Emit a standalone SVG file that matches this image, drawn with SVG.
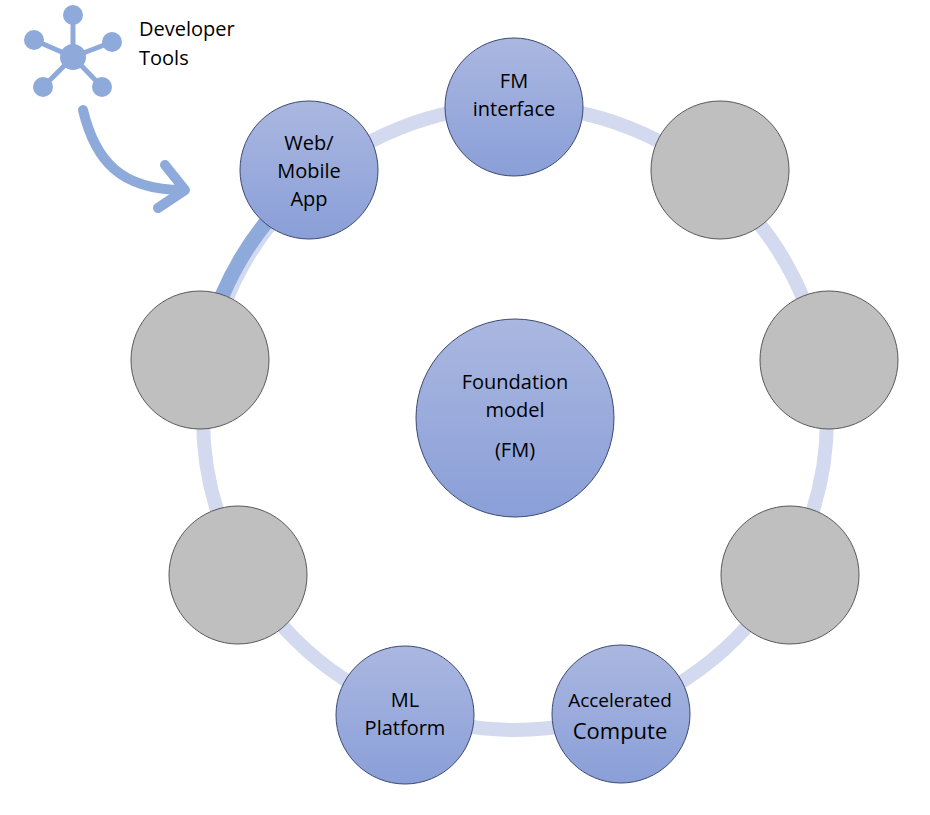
<svg xmlns="http://www.w3.org/2000/svg" width="930" height="815" viewBox="0 0 930 815">
<defs>
<linearGradient id="bg" x1="0" y1="0" x2="0" y2="1"><stop offset="0" stop-color="#aab7e0"/><stop offset="1" stop-color="#8a9fd8"/></linearGradient>
<style>
.b{fill:url(#bg);stroke:#3c4a70;stroke-width:1}
.g{fill:#bfbfbf;stroke:#595959;stroke-width:1}
.t{font-family:"Open Sans","Liberation Sans",sans-serif;font-size:20px;fill:#000;text-anchor:middle}
.ic{fill:#8eaadb}
.sp{stroke:#8eaadb;stroke-width:5}
</style>
</defs>
<rect width="930" height="815" fill="#fff"/>
<g id="connectors">
<circle cx="515" cy="418" r="312" fill="none" stroke="#d3d9ee" stroke-width="14"/>
<path d="M268,220 A312,312 0 0 0 222,296" fill="none" stroke="#8eaadb" stroke-width="15"/>
<path d="M83,110 C95,160 120,190 183,190" fill="none" stroke="#8eaadb" stroke-width="10" stroke-linecap="round"/>
<path d="M165,165 L185,190 L158,208" fill="none" stroke="#8eaadb" stroke-width="10" stroke-linecap="round" stroke-linejoin="round"/>
</g>
<g id="devtools">
<line class="sp" x1="73" y1="57" x2="73" y2="15"/><line class="sp" x1="73" y1="57" x2="34" y2="40"/><line class="sp" x1="73" y1="57" x2="112" y2="42"/><line class="sp" x1="73" y1="57" x2="43" y2="87"/><line class="sp" x1="73" y1="57" x2="102" y2="87"/>
<circle class="ic" cx="73" cy="57" r="13"/><circle class="ic" cx="73" cy="15" r="10"/><circle class="ic" cx="34" cy="40" r="10"/><circle class="ic" cx="112" cy="42" r="10"/><circle class="ic" cx="43" cy="87" r="10"/><circle class="ic" cx="102" cy="87" r="10"/>
<text class="t" x="139" y="36" style="text-anchor:start">Developer</text>
<text class="t" x="139" y="65" style="text-anchor:start">Tools</text>
</g>
<g id="fm"><circle class="b" cx="515" cy="418" r="99"/><text class="t" x="515" y="389">Foundation</text><text class="t" x="515" y="417">model</text><text class="t" x="515" y="457">(FM)</text></g>
<g id="fmi"><circle class="b" cx="514" cy="107" r="69"/><text class="t" x="514" y="88">FM</text><text class="t" x="514" y="116">interface</text></g>
<g id="web"><circle class="b" cx="309" cy="170" r="69"/><text class="t" x="309" y="150">Web/</text><text class="t" x="309" y="178">Mobile</text><text class="t" x="309" y="206">App</text></g>
<g id="g1"><circle class="g" cx="720" cy="170" r="69"/></g>
<g id="g2"><circle class="g" cx="829" cy="360" r="69"/></g>
<g id="g3"><circle class="g" cx="790" cy="575" r="69"/></g>
<g id="acc"><circle class="b" cx="621" cy="714" r="69"/><text class="t" x="620" y="707" style="font-size:19px">Accelerated</text><text class="t" x="620" y="739" style="font-size:22px">Compute</text></g>
<g id="ml"><circle class="b" cx="405" cy="715" r="69"/><text class="t" x="405" y="707">ML</text><text class="t" x="405" y="735">Platform</text></g>
<g id="g4"><circle class="g" cx="238" cy="575" r="69"/></g>
<g id="g5"><circle class="g" cx="200" cy="360" r="69"/></g>
</svg>
